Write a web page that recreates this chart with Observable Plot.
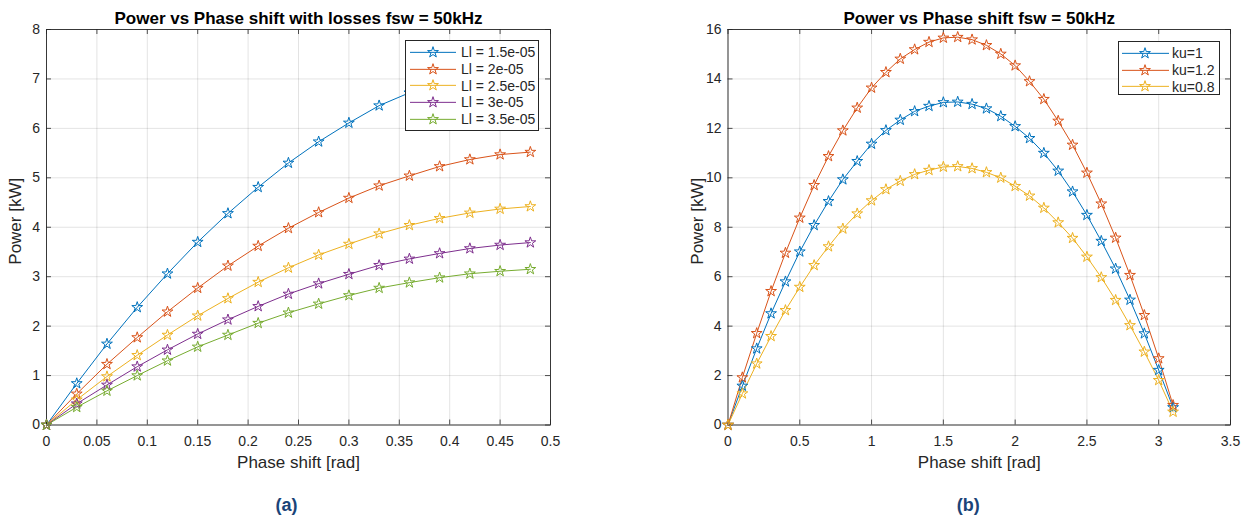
<!DOCTYPE html>
<html><head><meta charset="utf-8">
<script src="https://cdn.jsdelivr.net/npm/d3@7"></script>
<script src="https://cdn.jsdelivr.net/npm/@observablehq/plot@0.6"></script>
<style>
body{margin:0;background:#fff;}
#wrap{position:relative;width:1252px;height:522px;overflow:hidden;font-family:"Liberation Sans",Arial,Helvetica,sans-serif;}
.panel{position:absolute;top:0;}
.legend{position:absolute;background:#fff;border:1px solid #262626;box-sizing:border-box;font-size:14px;color:#262626;padding-top:3px;}
.legend .row{display:flex;align-items:center;height:16.7px;white-space:nowrap;}
.legend svg{display:block;flex:none;}
</style></head><body><div id="wrap"></div>
<script>
// ---------- Panel (a) data ----------
const phaseA = [0, 0.03, 0.06, 0.09, 0.12, 0.15, 0.18, 0.21, 0.24, 0.27, 0.30, 0.33, 0.36, 0.39, 0.42, 0.45, 0.48];
const seriesA = ["Ll = 1.5e-05", "Ll = 2e-05", "Ll = 2.5e-05", "Ll = 3e-05", "Ll = 3.5e-05"];
const powerLl15 = [0, 0.84, 1.64, 2.38, 3.06, 3.70, 4.28, 4.81, 5.30, 5.73, 6.11, 6.46, 6.72, 6.97, 7.16, 7.29, 7.36];
const powerLl20 = [0, 0.63, 1.23, 1.77, 2.29, 2.77, 3.22, 3.62, 3.98, 4.30, 4.59, 4.84, 5.04, 5.23, 5.37, 5.47, 5.52];
const powerLl25 = [0, 0.51, 0.98, 1.41, 1.82, 2.21, 2.56, 2.89, 3.18, 3.44, 3.66, 3.87, 4.04, 4.18, 4.29, 4.37, 4.42];
const powerLl30 = [0, 0.43, 0.81, 1.18, 1.52, 1.84, 2.13, 2.40, 2.65, 2.86, 3.05, 3.23, 3.36, 3.47, 3.57, 3.64, 3.69];
const powerLl35 = [0, 0.36, 0.69, 1.00, 1.30, 1.58, 1.82, 2.06, 2.27, 2.45, 2.62, 2.77, 2.88, 2.98, 3.06, 3.11, 3.15];
const xTicksA = [0, 0.05, 0.1, 0.15, 0.2, 0.25, 0.3, 0.35, 0.4, 0.45, 0.5];
const yTicksA = [0, 1, 2, 3, 4, 5, 6, 7, 8];

// ---------- Panel (b) data ----------
const phaseB = [0, 0.1, 0.2, 0.3, 0.4, 0.5, 0.6, 0.7, 0.8, 0.9, 1.0, 1.1, 1.2, 1.3, 1.4, 1.5, 1.6, 1.7, 1.8, 1.9, 2.0, 2.1, 2.2, 2.3, 2.4, 2.5, 2.6, 2.7, 2.8, 2.9, 3.0, 3.1];
const seriesB = ["ku=1", "ku=1.2", "ku=0.8"];
const powerKu10 = [0, 1.58, 3.09, 4.51, 5.80, 7.01, 8.08, 9.05, 9.93, 10.67, 11.37, 11.92, 12.34, 12.69, 12.90, 13.05, 13.07, 12.98, 12.80, 12.49, 12.08, 11.60, 11.00, 10.28, 9.44, 8.49, 7.44, 6.32, 5.06, 3.70, 2.22, 0.71];
const powerKu12 = [0, 1.92, 3.71, 5.41, 6.96, 8.38, 9.70, 10.87, 11.91, 12.83, 13.64, 14.27, 14.81, 15.19, 15.49, 15.66, 15.69, 15.59, 15.36, 15.01, 14.54, 13.90, 13.18, 12.30, 11.33, 10.20, 8.95, 7.57, 6.06, 4.44, 2.69, 0.80];
const powerKu08 = [0, 1.27, 2.48, 3.59, 4.64, 5.58, 6.46, 7.22, 7.94, 8.55, 9.08, 9.53, 9.87, 10.14, 10.31, 10.44, 10.46, 10.38, 10.22, 10.00, 9.66, 9.27, 8.78, 8.19, 7.56, 6.80, 5.97, 5.05, 4.03, 2.96, 1.81, 0.53];
const xTicksB = [0, 0.5, 1, 1.5, 2, 2.5, 3, 3.5];
const yTicksB = [0, 2, 4, 6, 8, 10, 12, 14, 16];

// ---------- Texts & colours ----------
const titleA = "Power vs Phase shift with losses fsw = 50kHz";
const titleB = "Power vs Phase shift fsw = 50kHz";
const xLabel = "Phase shift [rad]";
const yLabel = "Power [kW]";
const captionA = "(a)";
const captionB = "(b)";
const colorsA = ["#0072BD", "#D95319", "#EDB120", "#7E2F8E", "#77AC30"];
const colorsB = ["#0072BD", "#D95319", "#EDB120"];

function toRows(xs, names, arrays) {
  const rows = [];
  names.forEach((n, i) => arrays[i].forEach((v, j) => rows.push({series: n, phase: xs[j], power: v})));
  return rows;
}
const dataA = toRows(phaseA, seriesA, [powerLl15, powerLl20, powerLl25, powerLl30, powerLl35]);
const dataB = toRows(phaseB, seriesB, [powerKu10, powerKu12, powerKu08]);

const FONT = '"Liberation Sans", Arial, Helvetica, sans-serif';
const INK = "#262626";
const H = 522, MT = 29, MB = 522 - 424.5;

function panel(o) {
  const fw = o.width - o.mL - o.mR, fh = H - MT - MB;
  const tick = {stroke: INK, strokeOpacity: 1, strokeWidth: 0.8};
  return Plot.plot({
    width: o.width, height: H,
    marginLeft: o.mL, marginRight: o.mR, marginTop: MT, marginBottom: MB,
    style: {fontFamily: FONT, fontSize: "14px", color: INK, background: "transparent", overflow: "visible"},
    x: {domain: o.xDomain, axis: null},
    y: {domain: o.yDomain, axis: null},
    color: {domain: o.names, range: o.colors},
    marks: [
      Plot.gridX({ticks: o.xTicks, stroke: "#000", strokeOpacity: 0.11}),
      Plot.gridY({ticks: o.yTicks, stroke: "#000", strokeOpacity: 0.11}),
      Plot.gridX({ticks: o.xTicks, ...tick, insetTop: fh - 5}),
      Plot.gridX({ticks: o.xTicks, ...tick, insetBottom: fh - 5}),
      Plot.gridY({ticks: o.yTicks, ...tick, insetRight: fw - 5}),
      Plot.gridY({ticks: o.yTicks, ...tick, insetLeft: fw - 5}),
      Plot.frame({stroke: INK, strokeWidth: 0.9}),
      Plot.axisX({ticks: o.xTicks, tickSize: 0, tickPadding: 11, label: null, fontSize: 14, tickFormat: d => String(d)}),
      Plot.axisY({ticks: o.yTicks, tickSize: 0, tickPadding: 6.5, label: null, fontSize: 14, tickFormat: d => String(d)}),
      Plot.line(o.data, {x: "phase", y: "power", z: "series", stroke: "series", strokeWidth: 1}),
      Plot.dot(o.data, {x: "phase", y: "power", stroke: "series", symbol: "star", r: 3.4, fill: "none", strokeWidth: 1}),
      Plot.text([o.title], {text: d => d, frameAnchor: "top", lineAnchor: "middle", dy: -11, fontWeight: "bold", fontSize: 17, fill: "#000"}),
      Plot.text([xLabel], {text: d => d, frameAnchor: "bottom", lineAnchor: "middle", dy: 38, fontSize: 17}),
      Plot.text([yLabel], {text: d => d, frameAnchor: "left", lineAnchor: "middle", textAnchor: "middle", rotate: -90, dx: o.yLabDx, dy: -6, fontSize: 17}),
      Plot.text([o.caption], {text: d => d, frameAnchor: "bottom", lineAnchor: "middle", dy: 80.5, dx: o.capDx, fontWeight: "bold", fontSize: 18, fill: "#1a4478"})
    ]
  });
}

function legend(names, colors, box) {
  const div = document.createElement("div");
  div.className = "legend";
  Object.assign(div.style, {left: box.left + "px", top: box.top + "px", width: box.width + "px", height: box.height + "px"});
  const star = d3.symbol(d3.symbolStar, Math.PI * 3.4 * 3.4)();
  names.forEach((n, i) => {
    const row = document.createElement("div");
    row.className = "row";
    row.innerHTML = `<svg width="${box.sw}" height="16.7"><line x1="${box.l0}" x2="${box.sw}" y1="8.35" y2="8.35" stroke="${colors[i]}" stroke-width="1"/><path d="${star}" transform="translate(${box.sc},8.35)" fill="none" stroke="${colors[i]}" stroke-width="1"/></svg><span style="margin-left:${box.gap}px">${n}</span>`;
    div.appendChild(row);
  });
  return div;
}

const wrap = document.getElementById("wrap");
const pA = panel({data: dataA, names: seriesA, colors: colorsA, xDomain: [0, 0.5], yDomain: [0, 8],
  xTicks: xTicksA, yTicks: yTicksA, width: 600, mL: 46, mR: 50, title: titleA,
  caption: captionA, capDx: -12, yLabDx: -31});
pA.classList.add("panel"); pA.style.left = "0px";
wrap.appendChild(pA);
const pB = panel({data: dataB, names: seriesB, colors: colorsB, xDomain: [0, 3.5], yDomain: [0, 16],
  xTicks: xTicksB, yTicks: yTicksB, width: 572, mL: 47.5, mR: 22, title: titleB,
  caption: captionB, capDx: -11, yLabDx: -30});
pB.classList.add("panel"); pB.style.left = "680px";
wrap.appendChild(pB);

wrap.appendChild(legend(seriesA, colorsA, {left: 405, top: 40, width: 134, height: 91, sw: 50, l0: 4, sc: 27, gap: 5}));
wrap.appendChild(legend(seriesB, colorsB, {left: 1118, top: 41, width: 102, height: 54, sw: 50, l0: 3, sc: 26, gap: 3}));
</script></body></html>
